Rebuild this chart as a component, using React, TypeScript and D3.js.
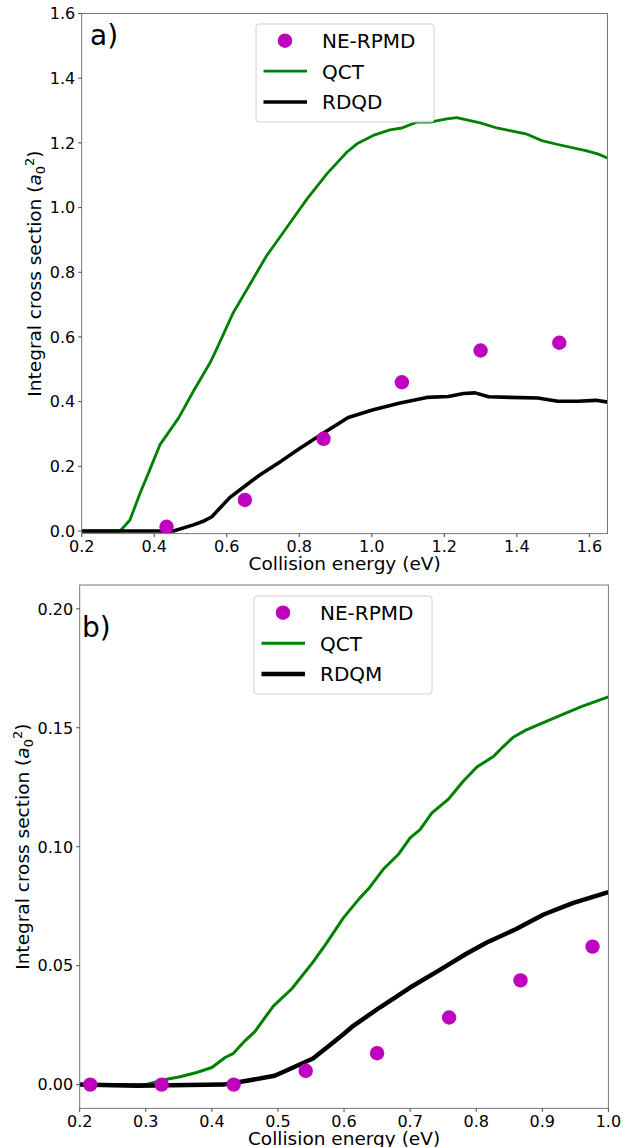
import React from 'react';
import * as d3 from 'd3';

// panel a) data
const rpmdEnergyA = [0.434, 0.65, 0.867, 1.083, 1.3, 1.517];
const rpmdSigmaA = [0.013, 0.096, 0.285, 0.46, 0.558, 0.582];
const qctEnergyA = [0.2, 0.306, 0.333, 0.361, 0.384, 0.416, 0.467, 0.508, 0.554, 0.572, 0.618, 0.664, 0.71, 0.766, 0.821, 0.876, 0.931, 0.959, 1.004, 1.05, 1.083, 1.124, 1.161, 1.207, 1.234, 1.299, 1.345, 1.381, 1.425, 1.469, 1.513, 1.59, 1.623, 1.653];
const qctSigmaA = [0, 0, 0.034, 0.117, 0.179, 0.267, 0.349, 0.432, 0.52, 0.562, 0.675, 0.763, 0.851, 0.939, 1.026, 1.104, 1.171, 1.197, 1.223, 1.24, 1.246, 1.264, 1.264, 1.274, 1.278, 1.262, 1.246, 1.238, 1.228, 1.207, 1.195, 1.176, 1.166, 1.152];
const rdqEnergyA = [0.2, 0.453, 0.508, 0.535, 0.559, 0.572, 0.609, 0.655, 0.692, 0.75, 0.802, 0.867, 0.935, 1.004, 1.078, 1.152, 1.211, 1.253, 1.285, 1.322, 1.381, 1.458, 1.513, 1.568, 1.618, 1.653];
const rdqSigmaA = [0, 0, 0.019, 0.03, 0.044, 0.06, 0.104, 0.143, 0.174, 0.216, 0.256, 0.303, 0.351, 0.375, 0.396, 0.413, 0.416, 0.425, 0.427, 0.415, 0.413, 0.411, 0.401, 0.401, 0.404, 0.398];
const xTicksA = [0.2, 0.4, 0.6, 0.8, 1.0, 1.2, 1.4, 1.6];
const yTicksA = [0, 0.2, 0.4, 0.6, 0.8, 1.0, 1.2, 1.4, 1.6];

// panel b) data
const rpmdEnergyB = [0.216, 0.324, 0.433, 0.542, 0.65, 0.759, 0.867, 0.976];
const rpmdSigmaB = [0, 0, 0, 0.0058, 0.0132, 0.0282, 0.0438, 0.058];
const qctEnergyB = [0.2, 0.299, 0.326, 0.352, 0.377, 0.4, 0.42, 0.432, 0.45, 0.465, 0.493, 0.521, 0.553, 0.574, 0.599, 0.624, 0.637, 0.659, 0.682, 0.7, 0.715, 0.733, 0.758, 0.78, 0.801, 0.826, 0.841, 0.856, 0.875, 0.923, 0.959, 1.0];
const qctSigmaB = [0, 0, 0.0019, 0.0033, 0.0051, 0.0072, 0.0114, 0.013, 0.0184, 0.0223, 0.033, 0.0403, 0.0515, 0.0597, 0.0701, 0.0785, 0.0823, 0.0904, 0.0967, 0.1037, 0.1072, 0.1142, 0.12, 0.1274, 0.1335, 0.1379, 0.1421, 0.146, 0.149, 0.1547, 0.1589, 0.163];
const rdqEnergyB = [0.2, 0.286, 0.417, 0.453, 0.495, 0.523, 0.553, 0.574, 0.599, 0.614, 0.654, 0.7, 0.745, 0.785, 0.816, 0.859, 0.902, 0.947, 1.0];
const rdqSigmaB = [0, -0.0005, 0, 0.0016, 0.0037, 0.0072, 0.011, 0.0156, 0.0212, 0.0247, 0.0324, 0.0408, 0.0482, 0.055, 0.0597, 0.0652, 0.0715, 0.0764, 0.0809];
const xTicksB = [0.2, 0.3, 0.4, 0.5, 0.6, 0.7, 0.8, 0.9, 1.0];
const yTicksB = [0, 0.05, 0.1, 0.15, 0.2];

const FONT = 'DejaVu Sans, sans-serif';
const GREEN = '#008000';
const MAGENTA = '#bf00bf';

const zip = (xs: number[], ys: number[]) => xs.map((x, i) => [x, ys[i]] as [number, number]);

interface PanelProps {
  id: string;
  label: string;
  rdqName: string;
  x0: number; x1: number; y0: number; y1: number;
  xDomain: [number, number];
  yDomain: [number, number];
  yFrame: [number, number];
  xTicks: number[]; yTicks: number[];
  yFmt: string;
  rpmd: [number, number][];
  qct: [number, number][];
  rdq: [number, number][];
  qctWidth: number; rdqWidth: number;
  legendX: number; legendY: number;
  labelX: number; labelY: number;
  yLabelX: number;
}

const Panel: React.FC<PanelProps> = (p) => {
  const x = d3.scaleLinear().domain(p.xDomain).range([p.x0, p.x1]);
  // y domain maps to the tick positions, frame may extend a little below
  const y = d3.scaleLinear().domain(p.yDomain).range([p.y1, p.y0]);
  const top = y(p.yFrame[1]);
  const bottom = y(p.yFrame[0]);
  const line = d3.line<[number, number]>().x(d => x(d[0])).y(d => y(d[1]));
  const fmt = d3.format(p.yFmt);
  const fmtX = d3.format('.1f');
  const midY = (top + bottom) / 2;

  return (
    <g>
      <defs>
        <clipPath id={`clip-${p.id}`}>
          <rect x={p.x0} y={top} width={p.x1 - p.x0} height={bottom - top} />
        </clipPath>
      </defs>
      <g clipPath={`url(#clip-${p.id})`}>
        <path d={line(p.qct) || ''} fill="none" stroke={GREEN} strokeWidth={p.qctWidth} strokeLinejoin="round" />
        <path d={line(p.rdq) || ''} fill="none" stroke="#000" strokeWidth={p.rdqWidth} strokeLinejoin="round" />
        {p.rpmd.map((d, i) => (
          <circle key={i} cx={x(d[0])} cy={y(d[1])} r={7.2} fill={MAGENTA} />
        ))}
      </g>
      <rect x={p.x0} y={top} width={p.x1 - p.x0} height={bottom - top} fill="none" stroke="#777" strokeWidth={1} />

      {/* x axis */}
      {p.xTicks.map(t => (
        <g key={`x${t}`}>
          <line x1={x(t)} x2={x(t)} y1={bottom} y2={bottom + 3.5} stroke="#444" />
          <text x={x(t)} y={bottom + 18.8} textAnchor="middle" fontSize={16} fontFamily={FONT} fill="#000">{fmtX(t)}</text>
        </g>
      ))}
      {/* y axis */}
      {p.yTicks.map(t => (
        <g key={`y${t}`}>
          <line x1={p.x0 - 3.5} x2={p.x0} y1={y(t)} y2={y(t)} stroke="#444" />
          <text x={p.x0 - 6.5} y={y(t) + 5.8} textAnchor="end" fontSize={16} fontFamily={FONT} fill="#000">{fmt(t)}</text>
        </g>
      ))}
      <text x={(p.x0 + p.x1) / 2} y={bottom + 36.5} textAnchor="middle" fontSize={18.5} fontFamily={FONT} fill="#000">
        Collision energy (eV)
      </text>
      <text transform={`translate(${p.yLabelX},${midY}) rotate(-90)`} textAnchor="middle" fontSize={18.5} fontFamily={FONT} fill="#000">
        Integral cross section (<tspan fontStyle="italic">a</tspan>
        <tspan fontSize={13} dy={4}>0</tspan>
        <tspan fontSize={13} dy={-11}>2</tspan>
        <tspan dy={7}>)</tspan>
      </text>

      {/* panel label */}
      <text x={p.labelX} y={p.labelY} fontSize={28} fontFamily={FONT} fill="#000">{p.label}</text>

      {/* legend */}
      <g transform={`translate(${p.legendX},${p.legendY})`}>
        <rect x={0} y={0} width={178} height={98} rx={3} fill="#fff" fillOpacity={0.8} stroke="#d0d0d0" strokeWidth={1} />
        <circle cx={29} cy={16.7} r={7.2} fill={MAGENTA} />
        <line x1={7.5} x2={51} y1={47.2} y2={47.2} stroke={GREEN} strokeWidth={p.qctWidth} />
        <line x1={7.5} x2={51} y1={78} y2={78} stroke="#000" strokeWidth={p.rdqWidth} />
        <text x={66} y={16.7 + 7.3} fontSize={20} fontFamily={FONT} fill="#000">NE-RPMD</text>
        <text x={66} y={47.2 + 7.3} fontSize={20} fontFamily={FONT} fill="#000">QCT</text>
        <text x={66} y={78 + 7.3} fontSize={20} fontFamily={FONT} fill="#000">{p.rdqName}</text>
      </g>
    </g>
  );
};

export default function App() {
  return (
    <div style={{ position: 'absolute', left: 0, top: 0, background: '#fff' }}>
      <svg width={623} height={1147} style={{ display: 'block' }}>
        <rect width={623} height={1147} fill="#fff" />
        <Panel
          id="a" label="a)" rdqName="RDQD"
          x0={81.7} x1={607.5} y0={13.5} y1={531}
          xDomain={[0.2, 1.65]} yDomain={[0, 1.6]} yFrame={[-0.008, 1.6]}
          xTicks={xTicksA} yTicks={yTicksA} yFmt=".1f"
          rpmd={zip(rpmdEnergyA, rpmdSigmaA)}
          qct={zip(qctEnergyA, qctSigmaA)}
          rdq={zip(rdqEnergyA, rdqSigmaA)}
          qctWidth={2.8} rdqWidth={3.6}
          legendX={256} legendY={24}
          labelX={90} labelY={45}
          yLabelX={41}
        />
        <Panel
          id="b" label="b)" rdqName="RDQM"
          x0={79.7} x1={608.4} y0={608.8} y1={1084.6}
          xDomain={[0.2, 1.0]} yDomain={[0, 0.2]} yFrame={[-0.01, 0.21]}
          xTicks={xTicksB} yTicks={yTicksB} yFmt=".2f"
          rpmd={zip(rpmdEnergyB, rpmdSigmaB)}
          qct={zip(qctEnergyB, qctSigmaB)}
          rdq={zip(rdqEnergyB, rdqSigmaB)}
          qctWidth={3} rdqWidth={4.5}
          legendX={254} legendY={596}
          labelX={82} labelY={636.5}
          yLabelX={29}
        />
      </svg>
    </div>
  );
}
